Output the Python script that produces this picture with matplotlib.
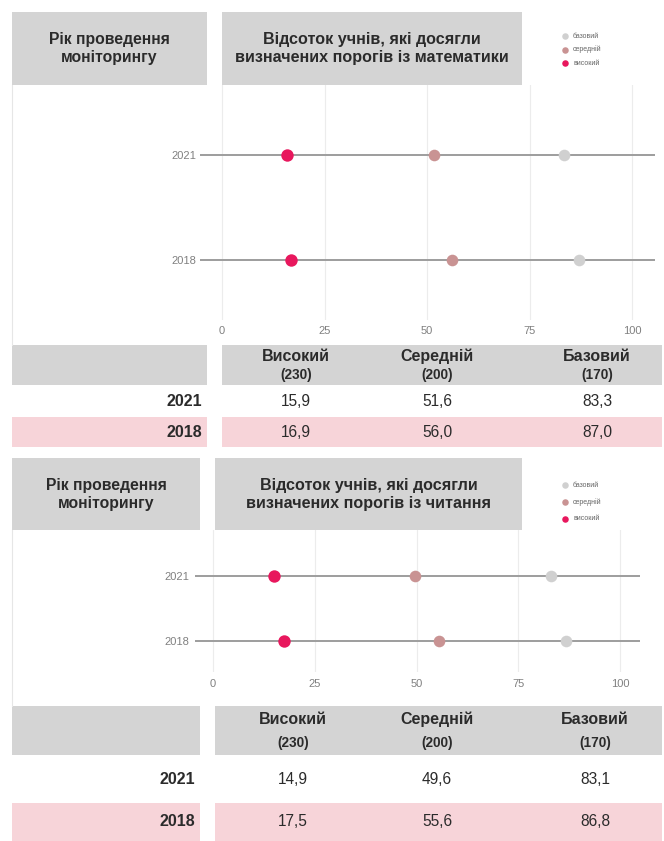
import matplotlib
matplotlib.use("Agg")
import matplotlib.pyplot as plt
from matplotlib.patches import Rectangle

plt.rcParams['font.family'] = ['Liberation Sans', 'DejaVu Sans']

# data
years = ['2021', '2018']
levels = ['Високий', 'Середній', 'Базовий']
thresholds = ['(230)', '(200)', '(170)']
legend_labels = ['базовий', 'середній', 'високий']

math_high = [15.9, 16.9]
math_mid = [51.6, 56.0]
math_base = [83.3, 87.0]

read_high = [14.9, 17.5]
read_mid = [49.6, 55.6]
read_base = [83.1, 86.8]

xticks = [0, 25, 50, 75, 100]

# colours
C_HIGH = '#e8175d'
C_MID = '#c99393'
C_BASE = '#d0d0d0'
C_HEAD = '#d4d4d4'
C_PINK = '#f7d4d9'
C_TEXT = '#2b2b2b'

W, H = 664, 841
fig = plt.figure(figsize=(W / 100, H / 100), dpi=100)
bg = fig.add_axes([0, 0, 1, 1])
bg.set_xlim(0, W)
bg.set_ylim(H, 0)
bg.axis('off')


def box(x0, y0, x1, y1, color):
    bg.add_patch(Rectangle((x0, y0), x1 - x0, y1 - y0, color=color, lw=0, zorder=0))


def pix_axes(x0, y0, x1, y1):
    return fig.add_axes([x0 / W, 1 - y1 / H, (x1 - x0) / W, (y1 - y0) / H])


def fmt(v):
    return f'{v:.1f}'.replace('.', ',')


def panel(p, title):
    # header cells
    box(12, p['hy0'], p['lx1'], p['hy1'], C_HEAD)
    box(p['rx0'], p['hy0'], 522, p['hy1'], C_HEAD)
    bg.text((12 + p['lx1']) / 2, (p['hy0'] + p['hy1']) / 2, 'Рік проведення\nмоніторингу',
            ha='center', va='center', fontsize=11.3, fontweight='bold', color=C_TEXT, linespacing=1.25)
    bg.text((p['rx0'] + 522) / 2, (p['hy0'] + p['hy1']) / 2, title,
            ha='center', va='center', fontsize=11.6, fontweight='bold', color=C_TEXT, linespacing=1.25)
    # legend
    for i, (lab, c) in enumerate(zip(legend_labels, [C_BASE, C_MID, C_HIGH])):
        ly = p['legy'] + i * p['legdy']
        bg.scatter([565], [ly], s=22, color=c, lw=0)
        bg.text(573, ly, lab, ha='left', va='center', fontsize=5, color='#666666')
    # faint left border of chart area
    bg.plot([12, 12], [p['hy1'], p['ty0']], color='#e6e6e6', lw=0.8)

    # dot chart
    ax = pix_axes(p['ax0'], p['ay0'], p['ax1'], p['ay1'])
    scale = (p['x100'] - p['x0']) / 100
    ax.set_xlim(-(p['x0'] - p['ax0']) / scale, (p['ax1'] - p['x0']) / scale)
    ypos = [1, 0]
    ax.set_ylim(p['ylim'])
    for y in ypos:
        ax.axhline(y, color='#9d9d9d', lw=1.4, zorder=1)
    ax.scatter(p['base'], ypos, s=70, color=C_BASE, zorder=3, lw=0)
    ax.scatter(p['mid'], ypos, s=70, color=C_MID, zorder=3, lw=0)
    ax.scatter(p['high'], ypos, s=80, color=C_HIGH, zorder=4, lw=0)
    ax.set_xticks(xticks)
    ax.set_yticks(ypos)
    ax.set_yticklabels(years)
    ax.grid(axis='x', color='#ececec', lw=0.8)
    ax.set_axisbelow(True)
    ax.tick_params(axis='both', length=0, labelsize=8, labelcolor='#808080')
    ax.tick_params(axis='x', pad=p['xpad'])
    ax.tick_params(axis='y', pad=p['ypad'])
    for s in ax.spines.values():
        s.set_visible(False)
    ax.patch.set_alpha(0)

    # table
    box(12, p['ty0'], p['lx1'], p['ty1'], C_HEAD)
    box(p['rx0'], p['ty0'], 662, p['ty1'], C_HEAD)
    box(12, p['r2y0'], p['lx1'], p['r2y1'], C_PINK)
    box(p['rx0'], p['r2y0'], 662, p['r2y1'], C_PINK)
    for cx, lev, th in zip(p['cols'], levels, thresholds):
        bg.text(cx, p['hl1'], lev, ha='center', va='center', fontsize=11.5, fontweight='bold', color=C_TEXT)
        bg.text(cx, p['hl2'], th, ha='center', va='center', fontsize=9.8, fontweight='bold', color=C_TEXT)
    rows = [p['r1y'], (p['r2y0'] + p['r2y1']) / 2]
    for ri, (yr, ry) in enumerate(zip(years, rows)):
        bg.text(p['lx1'] - 5, ry, yr, ha='right', va='center', fontsize=11.5, fontweight='bold', color=C_TEXT)
        vals = [p['high'][ri], p['mid'][ri], p['base'][ri]]
        for cx, v in zip(p['cols'], vals):
            bg.text(cx, ry, fmt(v), ha='center', va='center', fontsize=11.2, color=C_TEXT)


top = dict(hy0=12, hy1=85, lx1=207, rx0=222, legy=36, legdy=13.5,
           ax0=200, ax1=655, ay0=85, ay1=320, x0=222, x100=632, ylim=(-0.57, 1.67),
           xpad=4.5, ypad=2.5,
           ty0=345, ty1=385, r2y0=417, r2y1=447, hl1=356, hl2=375, r1y=401,
           cols=[296, 437, 597],
           high=math_high, mid=math_mid, base=math_base)
bottom = dict(hy0=458, hy1=530, lx1=200, rx0=215, legy=485, legdy=17,
              ax0=195, ax1=640, ay0=530, ay1=672, x0=213, x100=620, ylim=(-0.48, 1.71),
              xpad=5, ypad=4,
              ty0=706, ty1=755, r2y0=803, r2y1=841, hl1=719, hl2=743, r1y=780,
              cols=[293, 437, 595],
              high=read_high, mid=read_mid, base=read_base)

panel(top, 'Відсоток учнів, які досягли\nвизначених порогів із математики')
panel(bottom, 'Відсоток учнів, які досягли\nвизначених порогів із читання')

fig.savefig('out.png', dpi=100, facecolor='white')
